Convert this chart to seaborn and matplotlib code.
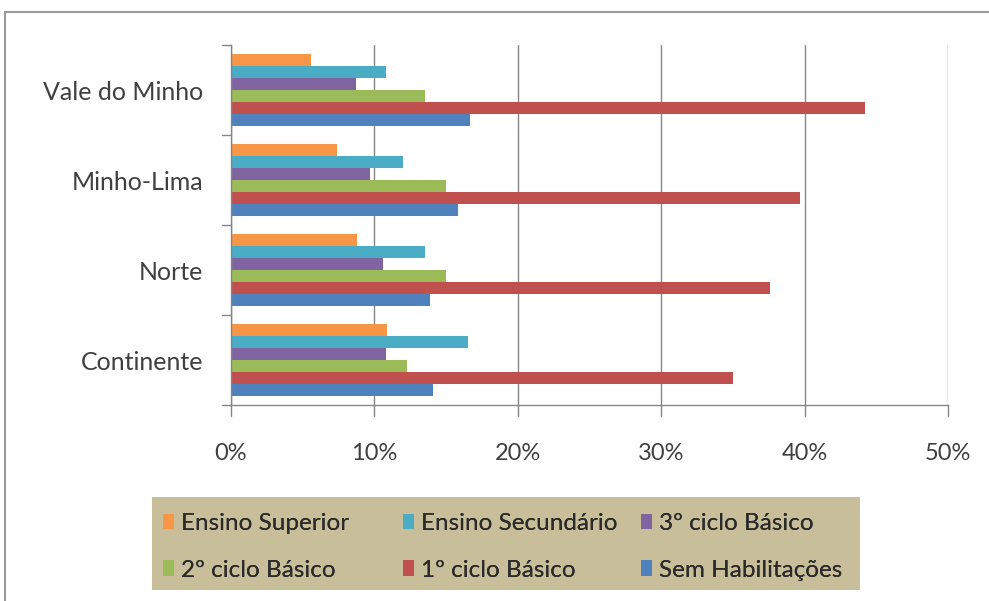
import pandas as pd
import numpy as np
import matplotlib.pyplot as plt
from matplotlib.patches import Rectangle
import seaborn as sns

# regions, top to bottom
regions = ['Vale do Minho', 'Minho-Lima', 'Norte', 'Continente']

# education levels, in the order they sit inside each group (top first)
levels = ['Ensino Superior', 'Ensino Secundário', '3º ciclo Básico',
          '2º ciclo Básico', '1º ciclo Básico', 'Sem Habilitações']

# shares (%) per level, one value per region in the order above
ensino_superior = [5.6, 7.4, 8.8, 10.9]
ensino_secundario = [10.8, 12.0, 13.5, 16.5]
ciclo_3 = [8.7, 9.7, 10.6, 10.8]
ciclo_2 = [13.5, 15.0, 15.0, 12.3]
ciclo_1 = [44.2, 39.7, 37.6, 35.0]
sem_habilitacoes = [16.7, 15.8, 13.9, 14.1]

x_ticks = [0, 10, 20, 30, 40, 50]
x_tick_labels = ['0%', '10%', '20%', '30%', '40%', '50%']

colors = ['#F79646', '#4BACC6', '#8064A2', '#9BBB59', '#C0504D', '#4F81BD']

series = [ensino_superior, ensino_secundario, ciclo_3, ciclo_2, ciclo_1, sem_habilitacoes]
rows = []
for level, vals in zip(levels, series):
    for region, v in zip(regions, vals):
        rows.append({'regiao': region, 'nivel': level, 'valor': v})
df = pd.DataFrame(rows)

sns.set_style('white')
plt.rcParams['font.family'] = ['Lato', 'DejaVu Sans']

fig = plt.figure(figsize=(9.89, 6.01), dpi=100)
ax = fig.add_axes([231 / 989, 1 - 405 / 601, 717 / 989, 360 / 601])

sns.barplot(data=df, y='regiao', x='valor', hue='nivel', order=regions,
            hue_order=levels, palette=colors, saturation=1, orient='h',
            width=0.8, edgecolor='none', linewidth=0, legend=True, ax=ax)

ax.set_xlim(0, 50)
ax.set_ylim(3.5, -0.5)
ax.set_xticks(x_ticks)
ax.set_xticklabels(x_tick_labels, fontsize=17, color='#404040')
ax.tick_params(axis='y', labelsize=18, colors='#404040', length=0, pad=20)
ax.tick_params(axis='x', pad=27, length=0)
ax.set_xlabel('')
ax.set_ylabel('')
ax.grid(axis='x', color='#868686', linewidth=1.0)
ax.set_axisbelow(True)
for s in ['top', 'right']:
    ax.spines[s].set_visible(False)
for s in ['left', 'bottom']:
    ax.spines[s].set_color('#868686')
    ax.spines[s].set_linewidth(1.0)

# tick marks on the category boundaries and below the x axis
for b in np.arange(-0.5, 4.0, 1.0):
    ax.plot([-0.6, 0], [b, b], color='#868686', lw=1.0, clip_on=False)
for t in x_ticks:
    ax.plot([t, t], [3.5, 3.62], color='#868686', lw=1.0, clip_on=False)

# legend: tan box with three columns of two entries
handles, labels = ax.get_legend_handles_labels()
ax.get_legend().remove()
fig.patches.append(Rectangle((152 / 989, 1 - 590 / 601), 708 / 989, 93 / 601,
                             transform=fig.transFigure, facecolor='#C8BF9A',
                             edgecolor='none', zorder=0))
col_x = [163, 403, 641]
for j, x0 in enumerate(col_x):
    leg = fig.legend([handles[j], handles[j + 3]], [labels[j], labels[j + 3]],
                     loc='center left', bbox_to_anchor=(x0 / 989, 1 - 547 / 601),
                     frameon=False, fontsize=17.5, handlelength=0.45,
                     handleheight=0.6, handletextpad=0.3, labelspacing=1.05,
                     borderpad=0, borderaxespad=0)
    for txt in leg.get_texts():
        txt.set_color('#2b2b2b')
    fig.add_artist(leg)

# outer chart frame
fig.patches.append(Rectangle((5 / 989, -0.05), 1.1, 1 - 12 / 601 + 0.05,
                             transform=fig.transFigure, fill=False,
                             edgecolor='#9a9a9a', linewidth=1.5))

fig.savefig('out.png', dpi=100)
